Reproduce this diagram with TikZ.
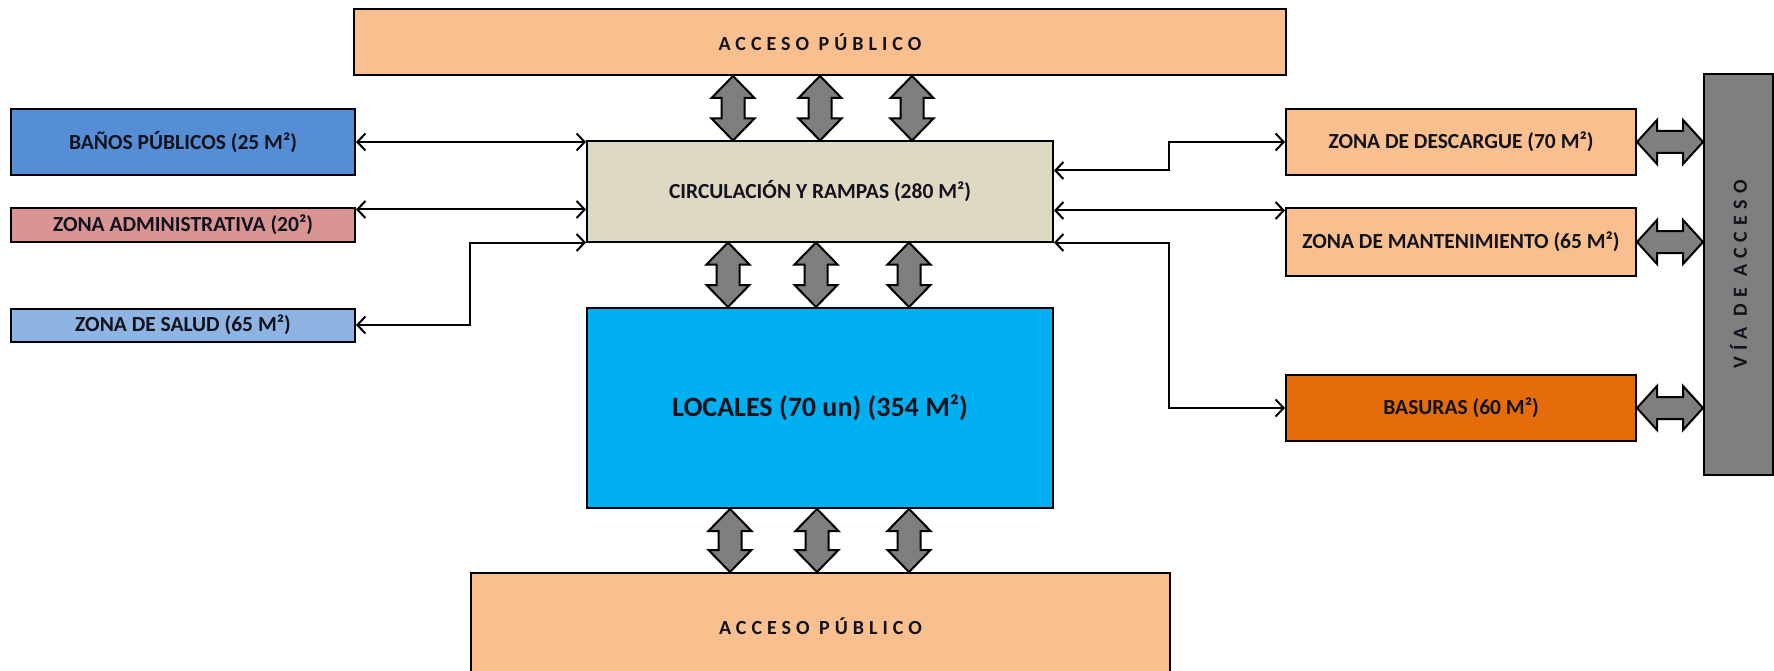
\documentclass[tikz,border=0pt]{standalone}
\usepackage{fontspec}
\setmainfont{Carlito}
\newfontfamily\spacedfont[LetterSpace=25]{Carlito}
\newfontfamily\viafont[LetterSpace=31]{Carlito}
\usetikzlibrary{calc,arrows.meta}
\definecolor{peach}{HTML}{F9BF8F}
\definecolor{bluebox}{HTML}{558ED5}
\definecolor{pinkbox}{HTML}{D99594}
\definecolor{lightblue}{HTML}{8EB4E3}
\definecolor{beige}{HTML}{DDD9C3}
\definecolor{cyanbox}{HTML}{00B0F0}
\definecolor{orangebox}{HTML}{E46C0A}
\definecolor{grayfill}{HTML}{7F7F7F}
\definecolor{textc}{HTML}{12121C}
\newcommand{\vblock}[3]{%
  \coordinate (va) at (#2.south -| #1);
  \coordinate (vb) at (#3.north -| #1);
  \draw[blk] (va) -- ++(21.5,22) -- ++(-10,0) -- ($(vb)+(11.5,-22)$) -- ++(10,0) -- (vb)
    -- ++(-21.5,-22) -- ++(10,0) -- ($(va)+(-11.5,22)$) -- ++(-10,0) -- cycle;}
\newcommand{\hblock}[2]{%
  \coordinate (ha) at (#1.east);
  \coordinate (hb) at (#1.east -| #2.west);
  \draw[blk] (ha) -- ++(20,-22) -- ++(0,11) -- ($(hb)+(-20,-11)$) -- ++(0,-11) -- (hb)
    -- ++(-20,22) -- ++(0,-11) -- ($(ha)+(20,11)$) -- ++(0,11) -- cycle;}
\begin{document}
\begin{tikzpicture}[x=1pt,y=-1pt,
  box/.style={draw=black, line width=2pt, inner sep=0pt, text=textc,
    font=\bfseries\fontsize{21.5}{24}\selectfont},
  spaced/.style={text=textc, font=\spacedfont\bfseries\fontsize{20}{22}\selectfont},
  viaspaced/.style={text=textc, font=\viafont\bfseries\fontsize{20}{22}\selectfont},
  blk/.style={draw=black, line width=2pt, fill=grayfill, line join=miter},
  conn/.style={draw=black, line width=2pt,
    arrows={Straight Barb[length=8pt,width=17pt]-Straight Barb[length=8pt,width=17pt]}}]
\useasboundingbox (0,0) rectangle (1774,671);
\clip (0,0) rectangle (1774,671);

% boxes
\node[box, fill=peach, minimum width=932pt, minimum height=66pt] (top) at (820,42) {};
\node[spaced] (toptxt) at (top.center) {ACCESO PÚBLICO};
\node[box, fill=bluebox, minimum width=344pt, minimum height=66pt] (banos) at (183,142) {BAÑOS PÚBLICOS (25 M²)};
\node[box, fill=pinkbox, minimum width=344pt, minimum height=33pt] (admin) at (183,225) {ZONA ADMINISTRATIVA (20²)};
\node[box, fill=lightblue, minimum width=344pt, minimum height=33pt] (salud) at (183,325) {ZONA DE SALUD (65 M²)};
\node[box, fill=beige, minimum width=466pt, minimum height=100pt] (circ) at (820,191.5) {CIRCULACIÓN Y RAMPAS (280 M²)};
\node[box, fill=cyanbox, minimum width=466pt, minimum height=200pt,
  font=\bfseries\fontsize{28}{32}\selectfont] (locales) at (820,408) {LOCALES (70 un) (354 M²)};
\node[box, fill=peach, minimum width=699pt, minimum height=106pt] (bottom) at (820.5,626) {};
\node[spaced] (bottxt) at (bottom.center) {ACCESO PÚBLICO};
\node[box, fill=peach, minimum width=350pt, minimum height=66pt] (desc) at (1461,142) {ZONA DE DESCARGUE (70 M²)};
\node[box, fill=peach, minimum width=350pt, minimum height=67pt] (mant) at (1461,242) {ZONA DE MANTENIMIENTO (65 M²)};
\node[box, fill=orangebox, minimum width=350pt, minimum height=66pt] (bas) at (1461,408) {BASURAS (60 M²)};
\node[box, fill=grayfill, minimum width=69pt, minimum height=401pt] (via) at (1738.5,274.5) {};
\node[viaspaced, rotate=90] (viatxt) at (via.center) {VÍA DE ACCESO};

% thin connectors
\coordinate (xL) at (470,0);
\coordinate (xR) at (1169,0);
\draw[conn] (banos.east) -- (banos.east -| circ.west);
\draw[conn] ([yshift=-2pt]admin.north east) -- ([yshift=-2pt]admin.north east -| circ.west);
\draw[conn] (salud.east) -- (salud.east -| xL) |- (circ.south west);
\draw[conn] (desc.west) -- (desc.west -| xR) |- ([yshift=21pt]circ.east);
\draw[conn] ([yshift=-3pt]mant.north west) -- ([yshift=-3pt]mant.north west -| circ.east);
\draw[conn] (bas.west) -- (bas.west -| xR) |- (circ.south east);

% block arrows
\coordinate (t1) at (733,0); \coordinate (t2) at (820,0); \coordinate (t3) at (912,0);
\coordinate (m1) at (728,0); \coordinate (m2) at (816,0); \coordinate (m3) at (909,0);
\coordinate (b1) at (730,0); \coordinate (b2) at (817,0); \coordinate (b3) at (909,0);
\vblock{t1}{top}{circ}
\vblock{t2}{top}{circ}
\vblock{t3}{top}{circ}
\vblock{m1}{circ}{locales}
\vblock{m2}{circ}{locales}
\vblock{m3}{circ}{locales}
\vblock{b1}{locales}{bottom}
\vblock{b2}{locales}{bottom}
\vblock{b3}{locales}{bottom}
\hblock{desc}{via}
\hblock{mant}{via}
\hblock{bas}{via}
\end{tikzpicture}
\end{document}
